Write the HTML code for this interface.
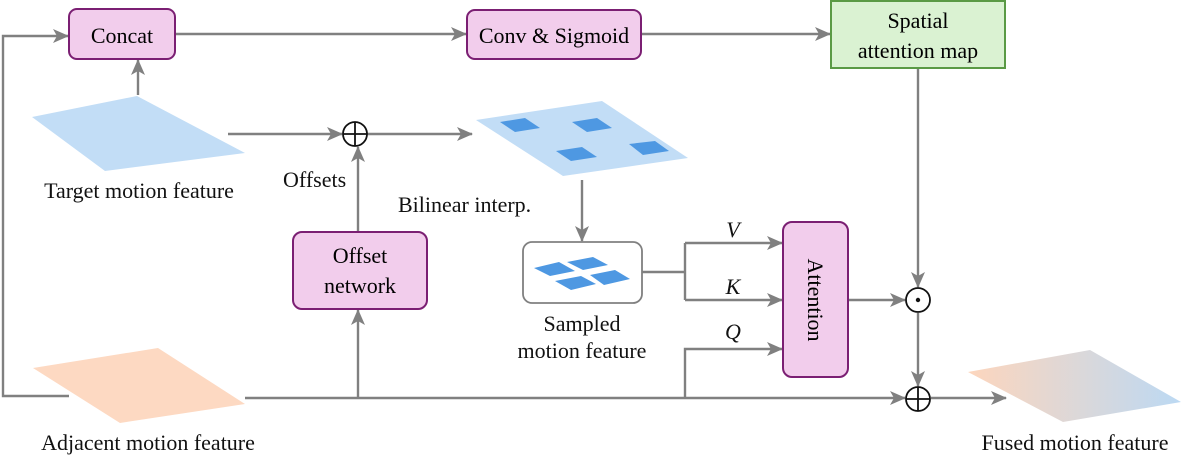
<!DOCTYPE html>
<html><head><meta charset="utf-8"><style>
html,body{margin:0;padding:0;background:#fff;}
svg{display:block;}
</style></head><body>
<svg width="1183" height="457" viewBox="0 0 1183 457" xmlns="http://www.w3.org/2000/svg" font-family="'Liberation Serif','Times New Roman',serif">
<defs>
<marker id="a" markerWidth="16" markerHeight="14" refX="15" refY="7" orient="auto" markerUnits="userSpaceOnUse" viewBox="0 0 16 14">
<path d="M0,0 L16,7 L0,14 L4,7 Z" fill="#808080"/>
</marker>
<linearGradient id="g" x1="0" y1="0" x2="1" y2="0">
<stop offset="0" stop-color="#fdd6bd"/><stop offset="1" stop-color="#bcd9f3"/>
</linearGradient>
</defs>
<g stroke="#808080" stroke-width="2.4" fill="none">
<polyline points="69,396 3,396 3,36 68,36" marker-end="url(#a)"/>
<line x1="175" y1="34" x2="466" y2="34" marker-end="url(#a)"/>
<line x1="641" y1="34" x2="830" y2="34" marker-end="url(#a)"/>
<line x1="138" y1="95" x2="138" y2="60" marker-end="url(#a)"/>
<line x1="228" y1="134" x2="342" y2="134" marker-end="url(#a)"/>
<line x1="367" y1="134" x2="472" y2="134" marker-end="url(#a)"/>
<line x1="358" y1="232" x2="358" y2="147" marker-end="url(#a)"/>
<line x1="358" y1="398" x2="358" y2="310" marker-end="url(#a)"/>
<line x1="582" y1="180" x2="582" y2="241" marker-end="url(#a)"/>
<polyline points="642,272 685,272"/>
<polyline points="685,243 685,300"/>
<line x1="685" y1="243" x2="782" y2="243" marker-end="url(#a)"/>
<line x1="685" y1="300" x2="782" y2="300" marker-end="url(#a)"/>
<polyline points="685,398 685,349 782,349" marker-end="url(#a)"/>
<line x1="245" y1="398" x2="905" y2="398" marker-end="url(#a)"/>
<line x1="848" y1="300" x2="905" y2="300" marker-end="url(#a)"/>
<line x1="918" y1="68" x2="918" y2="287" marker-end="url(#a)"/>
<line x1="918" y1="313" x2="918" y2="386" marker-end="url(#a)"/>
<line x1="931" y1="398" x2="1006" y2="398" marker-end="url(#a)"/>
</g>
<rect x="69" y="9" width="106" height="50" rx="8" fill="#f2cdec" stroke="#7b1f73" stroke-width="2"/>
<text x="122" y="43" font-size="22" text-anchor="middle">Concat</text>
<rect x="467" y="10" width="174" height="49" rx="8" fill="#f2cdec" stroke="#7b1f73" stroke-width="2"/>
<text x="554" y="43" font-size="22" text-anchor="middle">Conv &amp; Sigmoid</text>
<rect x="831" y="1" width="174" height="67" fill="#daf2d2" stroke="#5a9a45" stroke-width="2"/>
<text x="918" y="28" font-size="22" text-anchor="middle">Spatial</text>
<text x="918" y="58" font-size="22" text-anchor="middle">attention map</text>
<rect x="293" y="232" width="134" height="77" rx="9" fill="#f2cdec" stroke="#7b1f73" stroke-width="2"/>
<text x="360" y="263" font-size="22" text-anchor="middle">Offset</text>
<text x="360" y="293" font-size="22" text-anchor="middle">network</text>
<rect x="783" y="222" width="65" height="155" rx="9" fill="#f2cdec" stroke="#7b1f73" stroke-width="2"/>
<text transform="translate(808,300) rotate(90)" font-size="22" text-anchor="middle">Attention</text>
<rect x="523" y="242" width="119" height="61" rx="9" fill="#fff" stroke="#808080" stroke-width="1.8"/>
<polygon points="32,117 137,96 245,153 105,171" fill="#c2ddf6"/>
<polygon points="33,368 158,348 245,404 120,423" fill="#fdd9c2"/>
<polygon points="968,372 1090,350 1181,402 1063,422" fill="url(#g)"/>
<polygon points="476,120 602,101 688,158 563,176" fill="#c2ddf6"/>
<g fill="#4e98e2">
<polygon points="500,122 525,118 540,128 515,132"/>
<polygon points="572,122 597,118 612,128 587,132"/>
<polygon points="556,151 582,147 597,157 571,161"/>
<polygon points="629,144 655,141 669,151 643,155"/>
<polygon points="534,268 559,262 575,271 550,276"/>
<polygon points="567,262 593,257 608,265 583,270"/>
<polygon points="555,281 581,276 596,284 571,290"/>
<polygon points="590,275 615,270 630,279 604,285"/>
</g>
<g stroke="#111" stroke-width="1.8" fill="#fff">
<circle cx="355" cy="134" r="12"/>
<circle cx="918" cy="300" r="12"/>
<circle cx="918" cy="399" r="12"/>
</g>
<g stroke="#111" stroke-width="1.8">
<line x1="343" y1="134" x2="367" y2="134"/><line x1="355" y1="122" x2="355" y2="146"/>
<line x1="906" y1="399" x2="930" y2="399"/><line x1="918" y1="387" x2="918" y2="411"/>
</g>
<circle cx="918" cy="300" r="2.2" fill="#111"/>
<g font-size="22" fill="#111">
<text x="139" y="198" text-anchor="middle">Target motion feature</text>
<text x="283" y="187">Offsets</text>
<text x="398" y="212">Bilinear interp.</text>
<text x="582" y="331" text-anchor="middle">Sampled</text>
<text x="582" y="358" text-anchor="middle">motion feature</text>
<text x="733" y="237" text-anchor="middle" font-style="italic">V</text>
<text x="733" y="294" text-anchor="middle" font-style="italic">K</text>
<text x="733" y="339" text-anchor="middle" font-style="italic">Q</text>
<text x="148" y="450" text-anchor="middle">Adjacent motion feature</text>
<text x="1075" y="450" text-anchor="middle">Fused motion feature</text>
</g>
</svg>
</body></html>
